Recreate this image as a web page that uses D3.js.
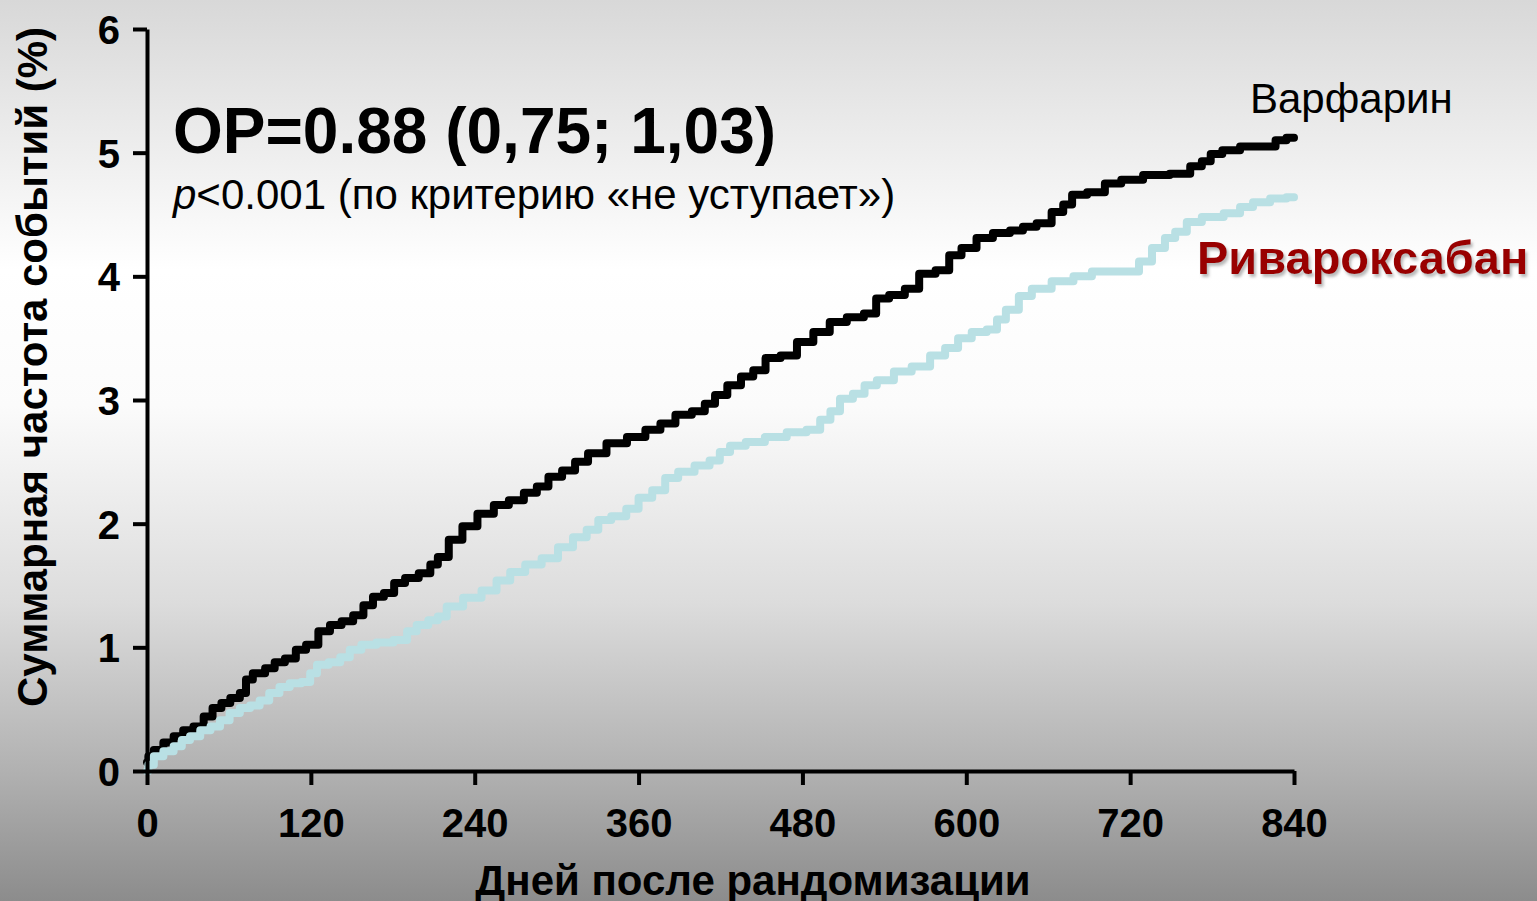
<!DOCTYPE html>
<html>
<head>
    <meta charset="utf-8">
    <title>Суммарная частота событий</title>
    <script src="https://d3js.org/d3.v7.min.js"></script>
    <style>
        body { margin: 0; overflow: hidden; }
        svg { display: block; font-family: "Liberation Sans", Arial, sans-serif; }
    </style>
</head>
<body>
    <svg width="1537" height="901"></svg>

    <script>
        // days since randomization and cumulative event rate (%)
        const warfarinDays = [0, 2, 8, 16, 23, 30, 38, 45, 51, 58, 64, 72, 73, 82, 91, 96, 106, 112, 121, 130,
            138, 147, 155, 162, 169, 178, 184, 194, 204, 211, 215, 227, 235, 249, 259, 271, 281, 290, 298, 310,
            317, 329, 344, 359, 371, 381, 393, 405, 412, 420, 430, 440, 448, 458, 470, 482, 494, 506, 519, 531,
            537, 550, 560, 571, 584, 591, 602, 613, 626, 638, 645, 658, 667, 675, 680, 697, 706, 721, 738, 760,
            768, 777, 781, 794, 807, 824, 829, 840];
        const warfarinPct = [0.07, 0.12, 0.17, 0.23, 0.28, 0.33, 0.36, 0.44, 0.51, 0.55, 0.59, 0.63, 0.74, 0.79, 0.83, 0.88, 0.91, 0.98, 1.02, 1.13,
            1.18, 1.21, 1.26, 1.34, 1.41, 1.44, 1.52, 1.56, 1.60, 1.67, 1.73, 1.87, 1.98, 2.08, 2.15, 2.19, 2.25, 2.30, 2.38, 2.43,
            2.50, 2.57, 2.65, 2.70, 2.76, 2.81, 2.88, 2.91, 2.97, 3.04, 3.12, 3.19, 3.24, 3.34, 3.36, 3.47, 3.55, 3.63, 3.67, 3.70,
            3.82, 3.85, 3.90, 4.02, 4.05, 4.17, 4.23, 4.31, 4.35, 4.37, 4.40, 4.43, 4.52, 4.58, 4.66, 4.68, 4.75, 4.78, 4.82, 4.83,
            4.89, 4.93, 4.99, 5.02, 5.05, 5.05, 5.10, 5.12];

        const rivaDays = [0, 2, 8, 16, 23, 28, 35, 43, 50, 57, 64, 72, 79, 86, 93, 101, 108, 118, 121, 128,
            138, 145, 152, 162, 174, 187, 194, 201, 211, 215, 224, 239, 251, 261, 271, 283, 295, 307, 317, 327,
            334, 346, 356, 364, 376, 383, 395, 407, 417, 422, 432, 445, 460, 477, 489, 497, 504, 511, 523, 528,
            541, 553, 567, 580, 589, 599, 609, 621, 624, 634, 643, 653, 672, 685, 699, 724, 729, 743, 748, 758,
            765, 780, 797, 804, 816, 829, 840];
        const rivaPct = [0.00, 0.05, 0.12, 0.16, 0.20, 0.25, 0.28, 0.33, 0.36, 0.41, 0.47, 0.51, 0.53, 0.57, 0.63, 0.68, 0.71, 0.72, 0.79, 0.86,
            0.88, 0.92, 0.98, 1.02, 1.04, 1.06, 1.13, 1.18, 1.22, 1.25, 1.33, 1.40, 1.46, 1.54, 1.61, 1.67, 1.72, 1.81, 1.89, 1.95,
            2.03, 2.06, 2.12, 2.21, 2.27, 2.37, 2.42, 2.47, 2.51, 2.58, 2.63, 2.66, 2.70, 2.74, 2.76, 2.84, 2.91, 3.01, 3.05, 3.12,
            3.16, 3.23, 3.27, 3.36, 3.42, 3.50, 3.55, 3.57, 3.65, 3.73, 3.84, 3.90, 3.96, 4.00, 4.04, 4.04, 4.12, 4.23, 4.31, 4.36,
            4.44, 4.48, 4.51, 4.56, 4.60, 4.63, 4.64];

        const xTicks = [0, 120, 240, 360, 480, 600, 720, 840];
        const yTicks = [0, 1, 2, 3, 4, 5, 6];

        const width = 1537;
        const height = 901;
        const svg = d3.select("svg");

        // background: grey at the top, white in the middle, darker grey at the bottom
        const defs = svg.append("defs");
        const grad = defs.append("linearGradient")
            .attr("id", "bg")
            .attr("x1", 0).attr("y1", 0).attr("x2", 0).attr("y2", 1);
        [[0, "#d8d8d8"], [0.3, "#ffffff"], [0.45, "#fbfbfb"], [0.67, "#dcdcdc"], [0.86, "#b0b0b0"], [1, "#8c8c8c"]]
            .forEach(s => grad.append("stop").attr("offset", s[0]).attr("stop-color", s[1]));

        const shadow = defs.append("filter").attr("id", "shadow")
            .attr("x", "-5%").attr("y", "-20%").attr("width", "110%").attr("height", "150%");
        shadow.append("feDropShadow")
            .attr("dx", 2).attr("dy", 3).attr("stdDeviation", 1.5)
            .attr("flood-color", "#888").attr("flood-opacity", 0.6);

        svg.append("rect").attr("width", width).attr("height", height).attr("fill", "url(#bg)");

        // scales
        const x = d3.scaleLinear().domain([0, 840]).range([147, 1294]);
        const y = d3.scaleLinear().domain([0, 6]).range([771, 29]);

        // the two curves as steps
        const line = d3.line()
            .x(d => x(d[0]))
            .y(d => y(d[1]))
            .curve(d3.curveStep);

        svg.append("path")
            .datum(d3.zip(warfarinDays, warfarinPct))
            .attr("d", line)
            .attr("fill", "none")
            .attr("stroke", "#000")
            .attr("stroke-width", 8)
            .attr("stroke-linejoin", "round")
            .attr("stroke-linecap", "round");

        svg.append("path")
            .datum(d3.zip(rivaDays, rivaPct))
            .attr("d", line)
            .attr("fill", "none")
            .attr("stroke", "#b9e0e4")
            .attr("stroke-width", 8)
            .attr("stroke-linejoin", "round")
            .attr("stroke-linecap", "round");

        // axes
        const yAxis = svg.append("g")
            .attr("transform", "translate(147,0)")
            .call(d3.axisLeft(y).tickValues(yTicks).tickFormat(d3.format("d"))
                .tickSize(14).tickSizeOuter(0).tickPadding(13));

        const xAxis = svg.append("g")
            .attr("transform", "translate(0,771)")
            .call(d3.axisBottom(x).tickValues(xTicks).tickFormat(d3.format("d"))
                .tickSize(14).tickSizeOuter(0));

        [yAxis, xAxis].forEach(g => {
            g.select(".domain").attr("stroke", "#000").attr("stroke-width", 4);
            g.selectAll(".tick line").attr("stroke", "#000").attr("stroke-width", 4);
            g.selectAll(".tick text")
                .attr("fill", "#000")
                .style("font-family", "'Liberation Sans', Arial, sans-serif")
                .style("font-size", "40px")
                .style("font-weight", "bold");
        });
        yAxis.selectAll(".tick text").attr("dy", "0.36em");
        xAxis.selectAll(".tick text").attr("y", 66).attr("dy", 0);

        // axis titles
        svg.append("text")
            .attr("transform", "translate(47,367) rotate(-90)")
            .attr("text-anchor", "middle")
            .style("font-size", "42px")
            .style("font-weight", "bold")
            .text("Суммарная частота событий (%)");

        svg.append("text")
            .attr("x", 753)
            .attr("y", 895)
            .attr("text-anchor", "middle")
            .style("font-size", "42px")
            .style("font-weight", "bold")
            .text("Дней после рандомизации");

        // annotations
        svg.append("text")
            .attr("x", 173)
            .attr("y", 153)
            .style("font-size", "64px")
            .style("font-weight", "bold")
            .text("ОР=0.88 (0,75; 1,03)");

        const pText = svg.append("text")
            .attr("x", 173)
            .attr("y", 209)
            .style("font-size", "42px");
        pText.append("tspan").style("font-style", "italic").text("p");
        pText.append("tspan").text("<0.001 (по критерию «не уступает»)");

        svg.append("text")
            .attr("x", 1250)
            .attr("y", 113)
            .style("font-size", "42px")
            .text("Варфарин");

        svg.append("text")
            .attr("x", 1197)
            .attr("y", 274)
            .attr("fill", "#990000")
            .attr("filter", "url(#shadow)")
            .style("font-size", "47px")
            .style("font-weight", "bold")
            .text("Ривароксабан");
    </script>
</body>
</html>
